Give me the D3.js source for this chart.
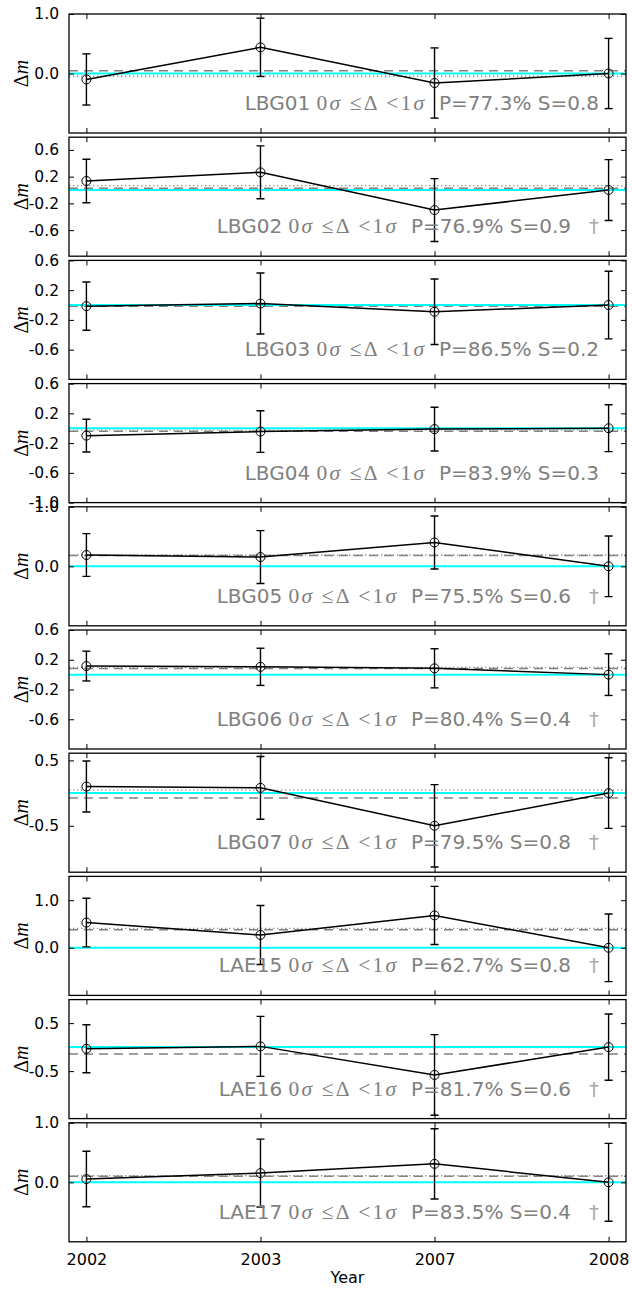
<!DOCTYPE html>
<html>
<head>
<meta charset="utf-8">
<script src="https://cdn.jsdelivr.net/npm/d3@7"></script>
<style>
  html, body { margin: 0; padding: 0; background: #fff; }
  svg { display: block; }
  text { white-space: pre; }
</style>
</head>
<body>
<div id="chart"></div>
<script>
// Epochs on the shared x axis
const years = ["2002", "2003", "2007", "2008"];

// One panel per source
const sources = ["LBG01", "LBG02", "LBG03", "LBG04", "LBG05", "LBG06", "LBG07", "LAE15", "LAE16", "LAE17"];

// Magnitude difference per epoch, and its 1-sigma error
const deltaM = [
  [-0.10, 0.44, -0.16, 0.00],
  [0.135, 0.265, -0.30, 0.00],
  [-0.015, 0.02, -0.09, 0.00],
  [-0.10, -0.045, -0.012, 0.00],
  [0.19, 0.155, 0.40, 0.00],
  [0.115, 0.105, 0.085, 0.00],
  [0.10, 0.08, -0.50, 0.00],
  [0.53, 0.27, 0.68, 0.00],
  [-0.035, 0.015, -0.58, 0.00],
  [0.055, 0.155, 0.31, 0.00]
];
const deltaErr = [
  [0.43, 0.49, 0.59, 0.59],
  [0.325, 0.395, 0.47, 0.455],
  [0.325, 0.41, 0.44, 0.455],
  [0.22, 0.28, 0.295, 0.315],
  [0.36, 0.445, 0.445, 0.51],
  [0.20, 0.25, 0.263, 0.28],
  [0.39, 0.48, 0.63, 0.54],
  [0.51, 0.62, 0.61, 0.71],
  [0.50, 0.625, 0.84, 0.69],
  [0.466, 0.57, 0.59, 0.655]
];

// Reference levels: weighted mean (dashed) and median (dotted)
const meanLevel   = [0.046, 0.025, -0.016, -0.04, 0.18, 0.083, -0.074, 0.38, -0.146, 0.10];
const medianLevel = [-0.046, 0.065, -0.005, -0.025, 0.19, 0.097, 0.044, 0.41, -0.01, 0.11];

// Variability statistics
const pValue = [77.3, 76.9, 86.5, 83.9, 75.5, 80.4, 79.5, 62.7, 81.7, 83.5];
const sValue = [0.8, 0.9, 0.2, 0.3, 0.6, 0.4, 0.8, 0.8, 0.6, 0.4];
const flagged = [false, true, false, false, true, true, true, true, true, true];

// y ranges and tick values per panel
const yRanges = [
  [-1.0, 1.0], [-0.99, 0.79], [-1.0, 0.6], [-1.0, 0.6], [-1.0, 1.0],
  [-1.0, 0.6], [-1.21, 0.61], [-1.0, 1.5], [-1.49, 0.99], [-1.0, 1.0]
];
const yTickValues = [
  [1.0, 0.0], [0.6, 0.2, -0.2, -0.6], [0.6, 0.2, -0.2, -0.6], [0.6, 0.2, -0.2, -0.6, -1.0], [1.0, 0.0],
  [0.6, 0.2, -0.2, -0.6], [0.5, -0.5], [1.0, 0.0], [0.5, -0.5], [1.0, 0.0]
];

const W = 632, H = 1293;
const left = 69, right = 626;
const top0 = 14, pitch = 123.2, panelH = 119;
const tickLen = 5;
const grey = "#808080";

const svg = d3.select("#chart").append("svg")
  .attr("width", W).attr("height", H)
  .attr("viewBox", `0 0 ${W} ${H}`);

const x = d3.scaleLinear().domain([-0.1, 3.1]).range([left, right]);
const fmt = v => v.toFixed(1);

sources.forEach((name, p) => {
  const top = top0 + p * pitch;
  const bottom = top + panelH;
  const y = d3.scaleLinear().domain(yRanges[p]).range([bottom, top]);
  const g = svg.append("g");

  const clipId = "clip" + p;
  svg.append("clipPath").attr("id", clipId)
    .append("rect").attr("x", left).attr("y", top).attr("width", right - left).attr("height", panelH);

  const plot = g.append("g").attr("clip-path", `url(#${clipId})`);

  // reference levels
  plot.append("line")
    .attr("x1", left).attr("x2", right)
    .attr("y1", y(meanLevel[p])).attr("y2", y(meanLevel[p]))
    .attr("stroke", grey).attr("stroke-width", 1.5).attr("stroke-dasharray", "9,6");
  plot.append("line")
    .attr("x1", left).attr("x2", right)
    .attr("y1", y(medianLevel[p])).attr("y2", y(medianLevel[p]))
    .attr("stroke", "#909090").attr("stroke-width", 1.3).attr("stroke-dasharray", "1.3,2.7");
  plot.append("line")
    .attr("x1", left).attr("x2", right)
    .attr("y1", y(0)).attr("y2", y(0))
    .attr("stroke", "#00ffff").attr("stroke-width", 2);

  // annotation
  const ty = top + 96;
  const endX = flagged[p] ? 571 : 599;
  const t = g.append("text")
    .attr("x", endX).attr("y", ty)
    .attr("text-anchor", "end")
    .attr("fill", grey)
    .attr("font-family", "DejaVu Sans")
    .attr("font-size", 20);
  t.append("tspan").text(name + " ");
  const mathStyle = s => s.attr("font-family", "Liberation Serif").attr("font-size", 21.5).attr("letter-spacing", 2.2);
  t.append("tspan").call(mathStyle).text("0");
  t.append("tspan").call(mathStyle).attr("font-style", "italic").text("σ");
  t.append("tspan").call(mathStyle).text(" ≤Δ <1");
  t.append("tspan").call(mathStyle).attr("font-style", "italic").text("σ");
  t.append("tspan").text(`  P=${pValue[p].toFixed(1)}% S=${sValue[p].toFixed(1)}`);
  if (flagged[p]) {
    g.append("text")
      .attr("x", 594).attr("y", ty)
      .attr("text-anchor", "middle")
      .attr("fill", "#aaaaaa")
      .attr("font-family", "DejaVu Sans")
      .attr("font-size", 20)
      .text("†");
  }

  // data
  const pts = years.map((yr, i) => ({ i, v: deltaM[p][i], e: deltaErr[p][i] }));
  const line = d3.line().x(d => x(d.i)).y(d => y(d.v));
  plot.append("path").datum(pts)
    .attr("d", line).attr("fill", "none")
    .attr("stroke", "#000").attr("stroke-width", 1.5);

  const eb = plot.selectAll(".eb").data(pts).enter().append("g");
  eb.append("line")
    .attr("x1", d => x(d.i)).attr("x2", d => x(d.i))
    .attr("y1", d => y(d.v - d.e)).attr("y2", d => y(d.v + d.e))
    .attr("stroke", "#000").attr("stroke-width", 1.4);
  [-1, 1].forEach(s => {
    eb.append("line")
      .attr("x1", d => x(d.i) - 4).attr("x2", d => x(d.i) + 4)
      .attr("y1", d => y(d.v + s * d.e)).attr("y2", d => y(d.v + s * d.e))
      .attr("stroke", "#000").attr("stroke-width", 1.4);
  });
  eb.append("circle")
    .attr("cx", d => x(d.i)).attr("cy", d => y(d.v)).attr("r", 4.5)
    .attr("fill", "none").attr("stroke", "#000").attr("stroke-width", 1);

  // inward ticks on all four sides
  const yAxL = d3.axisLeft(y).tickValues(yTickValues[p]).tickSize(-tickLen).tickPadding(tickLen + 5).tickFormat(fmt);
  const yAxR = d3.axisRight(y).tickValues(yTickValues[p]).tickSize(-tickLen).tickFormat("");
  const xAxB = d3.axisBottom(x).tickValues([0, 1, 2, 3]).tickSize(-tickLen).tickPadding(tickLen + 7)
    .tickFormat(p === sources.length - 1 ? (i => years[i]) : "");
  const xAxT = d3.axisTop(x).tickValues([0, 1, 2, 3]).tickSize(-tickLen).tickFormat("");

  const styleAxis = (sel, fs) => {
    sel.select(".domain").remove();
    sel.selectAll(".tick line").attr("stroke", "#000").attr("stroke-width", 1);
    sel.selectAll(".tick text").attr("fill", "#000").attr("font-family", "DejaVu Sans").attr("font-size", fs);
  };
  g.append("g").attr("transform", `translate(${left},0)`).call(yAxL).call(s => styleAxis(s, 15.5));
  g.append("g").attr("transform", `translate(${right},0)`).call(yAxR).call(s => styleAxis(s, 15.5));
  g.append("g").attr("transform", `translate(0,${bottom})`).call(xAxB).call(s => styleAxis(s, 16));
  g.append("g").attr("transform", `translate(0,${top})`).call(xAxT).call(s => styleAxis(s, 16));

  // frame
  g.append("rect")
    .attr("x", left).attr("y", top).attr("width", right - left).attr("height", panelH)
    .attr("fill", "none").attr("stroke", "#000").attr("stroke-width", 1.3);

  // y label
  const yl = g.append("text")
    .attr("transform", `translate(21,${top + panelH / 2}) rotate(-90)`)
    .attr("text-anchor", "middle")
    .attr("dominant-baseline", "central")
    .attr("font-family", "Liberation Serif")
    .attr("font-size", 20)
    .attr("fill", "#000");
  yl.append("tspan").text("Δ");
  yl.append("tspan").attr("font-style", "italic").text("m");
});

svg.append("text")
  .attr("x", (left + right) / 2).attr("y", 1283)
  .attr("text-anchor", "middle")
  .attr("font-family", "DejaVu Sans").attr("font-size", 16)
  .attr("fill", "#000")
  .text("Year");
</script>
</body>
</html>
